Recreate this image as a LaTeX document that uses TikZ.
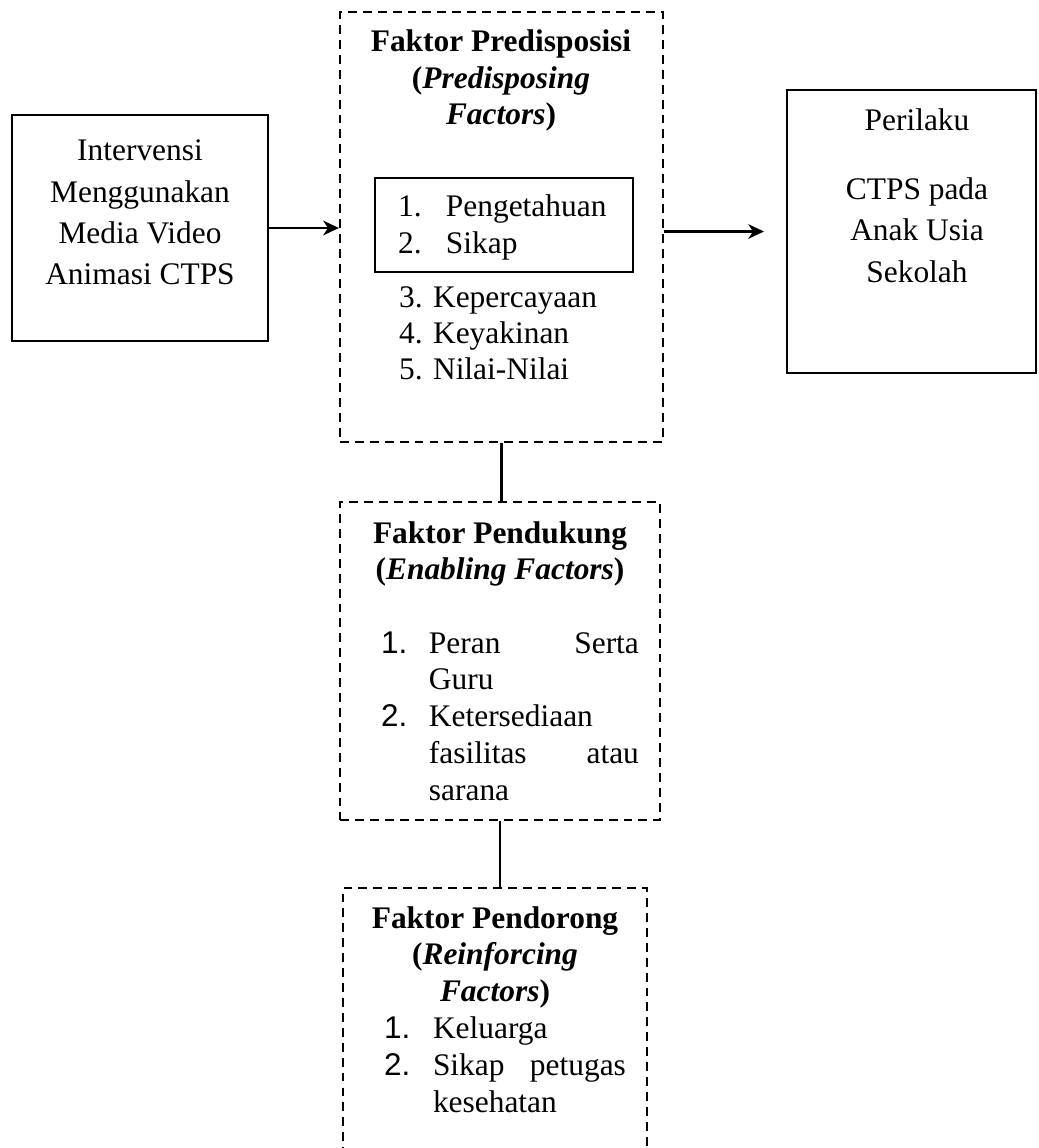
\documentclass[tikz,border=0pt]{standalone}
\usepackage{fontspec}
\setmainfont{Liberation Serif}
\setsansfont{Liberation Sans}
\usetikzlibrary{arrows.meta}

\newcommand{\rata}[2]{\makebox[#1][s]{#2}}

\begin{document}
\begin{tikzpicture}[x=0.382pt, y=-0.382pt, >={Stealth[length=6pt, width=5.6pt, inset=1.8pt]}, line width=0.8pt,
    kotak/.style={draw, rectangle, inner sep=0pt},
    putus/.style={kotak, dash pattern=on 3.4pt off 2.3pt},
    teks/.style={anchor=base, inner sep=0pt, font=\fontsize{12}{#1}\selectfont},
    teks/.default=13.8]
    \useasboundingbox (0,0) rectangle (1038,1148);
    \clip (0,0) rectangle (1038,1148);

    % kotak
    \node[kotak, minimum width=97.8pt, minimum height=86.3pt] (interv) at (140,228) {};
    \node[putus, minimum width=123.4pt, minimum height=164.3pt] (predis) at (501.5,227) {};
    \node[kotak, minimum width=98.6pt, minimum height=35.9pt] (inti) at (504,225) {};
    \node[kotak, minimum width=95.1pt, minimum height=108.1pt] (perilaku) at (911.5,231.5) {};
    \node[putus, minimum width=122.2pt, minimum height=121.5pt] (dukung) at (500,661) {};
    \node[putus, minimum width=116.1pt, minimum height=107.7pt] (dorong) at (495,1029) {};

    % isi kotak
    \node[teks=15.7] (isiinterv) at (140,161) {\begin{tabular}[t]{@{}c@{}}Intervensi\\Menggunakan\\Media Video\\Animasi CTPS\end{tabular}};
    \node[teks=15.9] (isiperilaku) at (917,131) {\begin{tabular}[t]{@{}c@{}}Perilaku\\[10.1pt]CTPS pada\\Anak Usia\\Sekolah\end{tabular}};

    \node[teks] (judulpredis) at (501,52) {\begin{tabular}[t]{@{}c@{}}\textbf{Faktor Predisposisi}\\\textbf{(\textit{Predisposing}}\\\textbf{\textit{Factors})}\end{tabular}};
    \node[teks, anchor=base west] (isiinti) at (397,217) {\begin{tabular}[t]{@{}p{18.3pt}@{}l@{}}1. & Pengetahuan\\2. & Sikap\end{tabular}};
    \node[teks=13.9, anchor=base west] (isipredis) at (398,307) {\begin{tabular}[t]{@{}l@{}}3. Kepercayaan\\4. Keyakinan\\5. Nilai-Nilai\end{tabular}};

    \node[teks=14.1] (juduldukung) at (500,543) {\begin{tabular}[t]{@{}c@{}}\textbf{Faktor Pendukung}\\\textbf{(\textit{Enabling Factors})}\end{tabular}};
    \node[teks=14.1, anchor=base west] (isidukung) at (380,653) {\begin{tabular}[t]{@{}p{18.3pt}@{}l@{}}\sffamily 1. & \rata{80.2pt}{Peran Serta}\\ & Guru\\\sffamily 2. & Ketersediaan\\ & \rata{80.2pt}{fasilitas atau}\\ & sarana\end{tabular}};

    \node[teks=14.1] (juduldorong) at (495,928) {\begin{tabular}[t]{@{}c@{}}\textbf{Faktor Pendorong}\\\textbf{(\textit{Reinforcing}}\\\textbf{\textit{Factors})}\end{tabular}};
    \node[teks=14.3, anchor=base west] (isidorong) at (383,1038) {\begin{tabular}[t]{@{}p{18.7pt}@{}l@{}}\sffamily 1. & Keluarga\\\sffamily 2. & \rata{73.7pt}{Sikap petugas}\\ & kesehatan\end{tabular}};

    % panah dan garis
    \draw[->] (interv.east) -- (interv.east -| predis.west);
    \draw[->, shorten >=8.4pt] (predis.east |- perilaku.west) -- (perilaku.west);
    \draw (predis.south) -- (predis.south |- dukung.north);
    \draw (dukung.south) -- (dukung.south |- dorong.north);
\end{tikzpicture}
\end{document}
